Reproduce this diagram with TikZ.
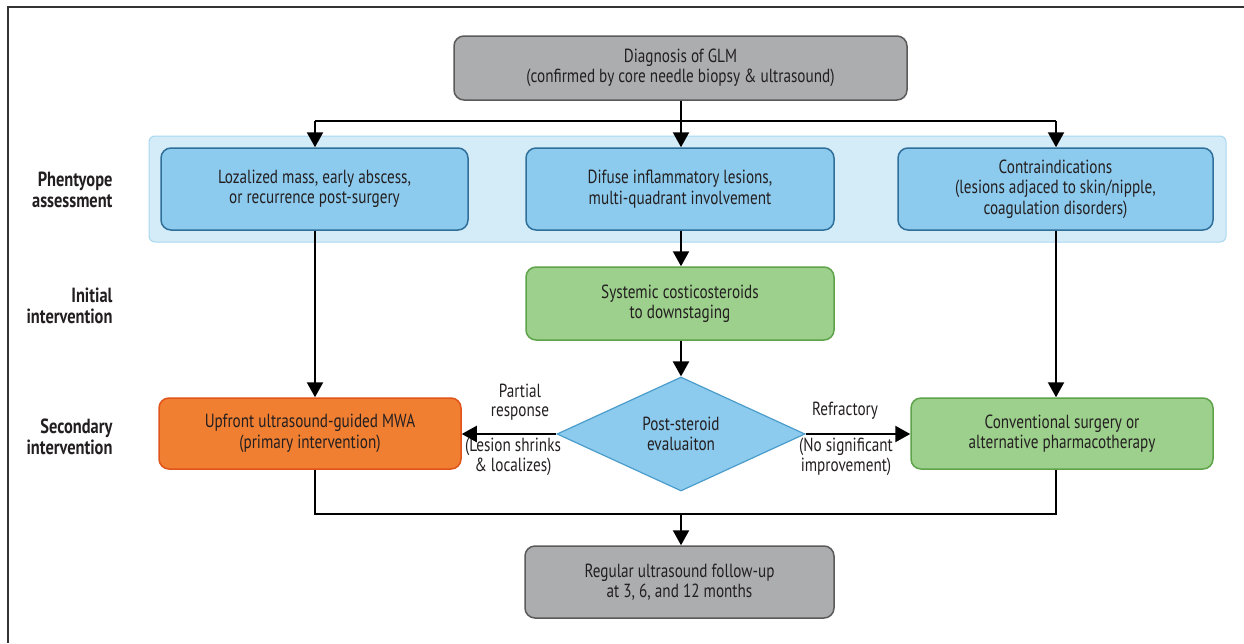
\documentclass[tikz,border=0pt]{standalone}
\usepackage{fontspec}
\setmainfont{PT Sans}[FakeStretch=0.8]
\usetikzlibrary{shapes.geometric,arrows.meta}
\definecolor{txt}{HTML}{231F20}
\definecolor{grayfill}{HTML}{ABADAF}
\definecolor{grayedge}{HTML}{5A5A5A}
\definecolor{bandfill}{HTML}{D4ECF8}
\definecolor{bandedge}{HTML}{A8D8F0}
\definecolor{bluefill}{HTML}{8DCBEE}
\definecolor{blueedge}{HTML}{2F6F9A}
\definecolor{greenfill}{HTML}{9DD08C}
\definecolor{greenedge}{HTML}{5EA34A}
\definecolor{orangefill}{HTML}{F07F31}
\definecolor{orangeedge}{HTML}{E0531A}
\definecolor{diaedge}{HTML}{4A9CCB}
\tikzset{
  box/.style={rounded corners=10pt, line width=1.5pt, align=center, text=txt, inner sep=0pt,
    font=\fontsize{19}{20.5}\selectfont},
  graybox/.style={box, fill=grayfill, draw=grayedge},
  bluebox/.style={box, fill=bluefill, draw=blueedge},
  greenbox/.style={box, fill=greenfill, draw=greenedge},
  orangebox/.style={box, fill=orangefill, draw=orangeedge},
  rowlabel/.style={align=right, anchor=east, text=txt, font=\bfseries\fontsize{20.5}{21}\selectfont},
  elabel/.style={align=center, text=txt, font=\fontsize{19}{19.5}\selectfont, inner sep=0pt},
  arr/.style={line width=2.3pt, -{Triangle[width=16pt,length=15pt]}},
  ln/.style={line width=2.3pt},
}
\begin{document}
\begin{tikzpicture}[x=1pt,y=-1pt]
\useasboundingbox (0,0) rectangle (1244,643);
\draw[line width=1.5pt, draw=black!80] (8,643) -- (8,7) -- (1244,7);
% band
\node[fill=bandfill, draw=bandedge, line width=1pt, rounded corners=6pt, minimum width=1077pt, minimum height=106pt, inner sep=0pt] (band) at (687.5,189) {};
% nodes
\node[graybox, minimum width=453pt, minimum height=64pt] (diag) at (680.5,68) {Diagnosis of GLM\\(confirmed by core needle biopsy \& ultrasound)};
\node[bluebox, minimum width=307pt, minimum height=82pt] (loc) at (314.5,189) {Lozalized mass, early abscess,\\or recurrence post-surgery};
\node[bluebox, minimum width=308pt, minimum height=82pt] (dif) at (680,189) {Difuse inflammatory lesions,\\multi-quadrant involvement};
\node[bluebox, minimum width=315pt, minimum height=82pt] (con) at (1055.5,189) {Contraindications\\(lesions adjaced to skin/nipple,\\coagulation disorders)};
\node[greenbox, minimum width=308pt, minimum height=73pt] (ster) at (680,303.5) {Systemic costicosteroids\\to downstaging};
\node[diamond, fill=bluefill, draw=diaedge, line width=1.2pt, minimum width=248pt, minimum height=114pt, aspect=2.18, inner sep=0pt, align=center, text=txt, font=\fontsize{19}{20.5}\selectfont] (eval) at (681,434) {Post-steroid\\evaluaiton};
\node[orangebox, minimum width=302pt, minimum height=71pt] (mwa) at (310,433.5) {Upfront ultrasound-guided MWA\\(primary intervention)};
\node[greenbox, minimum width=302pt, minimum height=71pt] (conv) at (1062,433.5) {Conventional surgery or\\alternative pharmacotherapy};
\node[graybox, minimum width=309pt, minimum height=72pt] (fu) at (679.5,582) {Regular ultrasound follow-up\\at 3, 6, and 12 months};
% row labels
\node[rowlabel] (r1) at (116,190) {Phentyope\\assessment};
\node[rowlabel] (r2) at (116,306) {Initial\\intervention};
\node[rowlabel] (r3) at (116,437) {Secondary\\intervention};
% edge labels
\node[elabel] (pr) at (520,402) {Partial\\response};
\node[elabel] (ls) at (513,457) {(Lesion shrinks\\\& localizes)};
\node[elabel] (rf) at (845,411) {Refractory};
\node[elabel] (ns) at (846,457) {(No significant\\improvement)};
% coordinates
\coordinate (split) at (681,121);
\coordinate (sl) at (315,121);
\coordinate (sr) at (1056,121);
\coordinate (jl) at (315,514);
\coordinate (jr) at (1056,514);
\coordinate (jm) at (681,514);
% connectors
\draw[arr] (diag.south -| split) -- (dif.north -| split);
\draw[ln] (sl) -- (sr);
\draw[arr] (sl) -- (loc.north -| sl);
\draw[arr] (sr) -- (con.north -| sr);
\draw[arr] (loc.south -| sl) -- (mwa.north -| sl);
\draw[arr] (dif.south -| split) -- (ster.north -| split);
\draw[arr] (ster.south -| split) -- (eval.north);
\draw[arr] (con.south -| sr) -- (conv.north -| sr);
\draw[arr] (eval.west) -- (mwa.east |- eval.west);
\draw[arr] (eval.east) -- (conv.west |- eval.east);
\draw[ln] (mwa.south -| jl) -- (jl) -- (jr) -- (conv.south -| jr);
\draw[arr] (jm) -- (fu.north -| jm);
\end{tikzpicture}
\end{document}
